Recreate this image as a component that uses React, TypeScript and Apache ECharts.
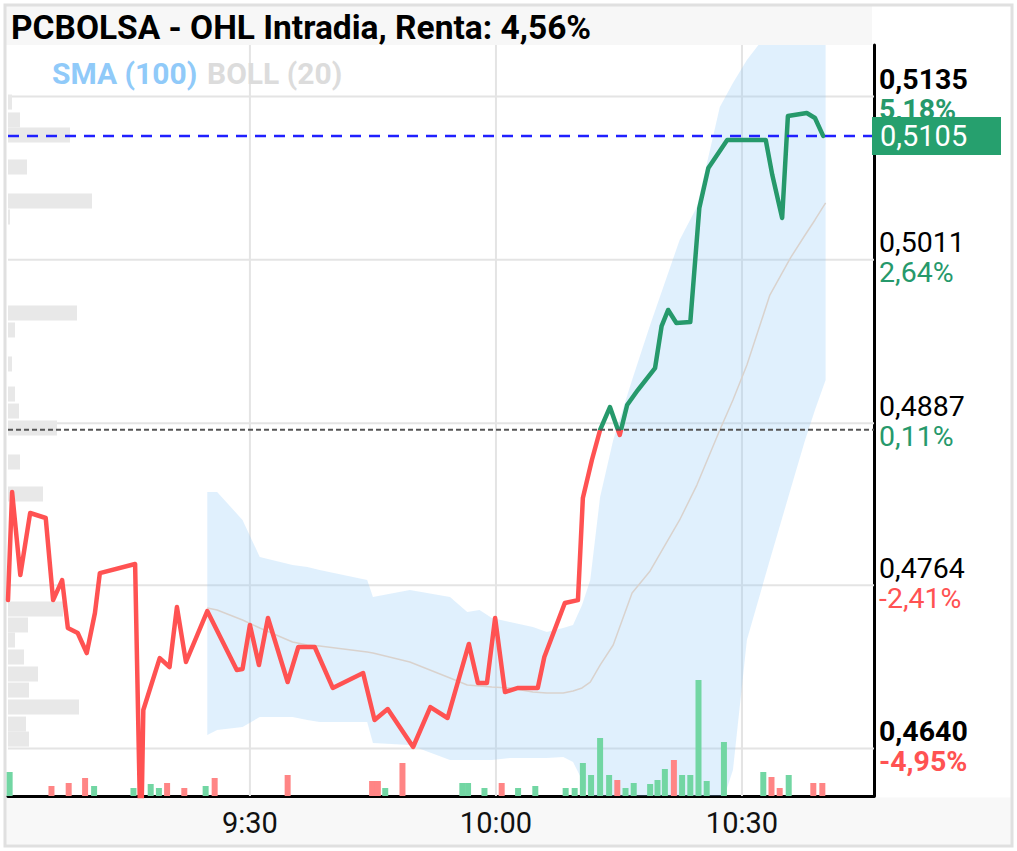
import React, { useEffect, useRef } from 'react';
import * as echarts from 'echarts';

const TITLE = 'PCBOLSA - OHL Intradia, Renta: 4,56%';
const LEGEND_SMA = 'SMA (100)';
const LEGEND_BOLL = 'BOLL (20)';

const PREV_CLOSE = 0.4882;
const LAST_PRICE = 0.5105;
const LAST_PRICE_LABEL = '0,5105';

const PRICE_MIN = 0.4604;
const PRICE_MAX = 0.5174;
const MINUTE_MIN = 0.5; // minutes after 9:00
const MINUTE_MAX = 106.1;

const priceTicks = [0.5135, 0.5011, 0.4887, 0.4764, 0.464];
const priceTickLabels = ['0,5135', '0,5011', '0,4887', '0,4764', '0,4640'];
const pctTickLabels = ['5,18%', '2,64%', '0,11%', '-2,41%', '-4,95%'];
const boldTicks = [true, false, false, false, true];

const timeTicks = [30, 60, 90];
const timeTickLabels = ['9:30', '10:00', '10:30'];

// Intraday price (minutes after 9:00, price)
const priceMinutes = [0.5, 1.0, 2.0, 3.2, 5.1, 6.0, 7.1, 7.8, 9.0, 10.1, 11.1, 11.7, 16.0, 16.7, 17.0, 19.0, 20.2, 21.1, 22.2, 24.8, 28.4, 29.1, 30.0, 31.1, 32.2, 34.6, 35.9, 37.9, 40.1, 43.8, 45.2, 46.8, 49.9, 52.0, 54.1, 56.7, 57.8, 58.9, 59.9, 61.1, 62.7, 65.1, 65.9, 68.4, 70.0, 70.6, 71.7, 72.7, 73.9, 75.1, 76.0, 77.3, 79.4, 80.2, 81.0, 82.0, 83.7, 84.8, 85.9, 88.2, 92.9, 93.7, 94.9, 95.6, 97.9, 98.9, 99.9];
const priceValues = [0.47527, 0.48347, 0.47717, 0.48188, 0.4815, 0.47527, 0.47679, 0.47315, 0.47277, 0.47125, 0.47429, 0.47732, 0.47801, 0.456, 0.46693, 0.47087, 0.47019, 0.47474, 0.47057, 0.47444, 0.46996, 0.47004, 0.47338, 0.47034, 0.47391, 0.46905, 0.47171, 0.47171, 0.4686, 0.46973, 0.46617, 0.467, 0.46412, 0.46715, 0.46632, 0.47194, 0.46898, 0.46898, 0.47391, 0.46829, 0.4686, 0.4686, 0.47095, 0.47505, 0.47527, 0.48302, 0.4859, 0.48818, 0.48992, 0.4878, 0.49008, 0.49121, 0.49288, 0.49607, 0.49729, 0.4963, 0.49637, 0.50503, 0.50806, 0.51019, 0.51019, 0.50753, 0.50427, 0.51201, 0.51224, 0.51186, 0.5105];

// Bollinger (20)
const bollMinutes = [24.8, 26.0, 29.1, 31.2, 35.2, 37.0, 38.5, 44.3, 45.0, 49.5, 54.4, 56.5, 58.0, 59.5, 61.7, 64.5, 66.2, 68.2, 69.4, 70.5, 71.5, 72.7, 74.3, 76.6, 78.8, 82.4, 84.5, 87.3, 88.9, 90.6, 93.4, 95.9, 97.7, 98.9, 100.2];
const bollUpper = [0.48347, 0.48347, 0.48135, 0.47854, 0.47793, 0.47778, 0.47755, 0.47679, 0.4755, 0.47603, 0.4755, 0.47436, 0.47452, 0.47391, 0.4736, 0.47323, 0.47285, 0.47315, 0.47338, 0.4749, 0.47679, 0.48309, 0.48742, 0.49197, 0.49615, 0.5026, 0.5051, 0.51269, 0.51452, 0.51626, 0.51853, 0.51884, 0.51854, 0.51854, 0.51885];
const bollMiddle = [0.47467, 0.47452, 0.47376, 0.47315, 0.47209, 0.47186, 0.47178, 0.47133, 0.47125, 0.47057, 0.46936, 0.46882, 0.46875, 0.46867, 0.4686, 0.46829, 0.46822, 0.46822, 0.46837, 0.4686, 0.46905, 0.47034, 0.47186, 0.47581, 0.47748, 0.48135, 0.484, 0.48818, 0.49046, 0.49311, 0.49842, 0.50123, 0.50298, 0.50412, 0.50541];
const bollLower = [0.46503, 0.46541, 0.46564, 0.4664, 0.4664, 0.46617, 0.46602, 0.46602, 0.46442, 0.46427, 0.46313, 0.46313, 0.46313, 0.46313, 0.46328, 0.46328, 0.46328, 0.46336, 0.46298, 0.46161, 0.4601, 0.45782, 0.45554, 0.45251, 0.45175, 0.45326, 0.45554, 0.45934, 0.46237, 0.47224, 0.47831, 0.48362, 0.48742, 0.4897, 0.49197];

// Traded volume per minute
const volMinutes = [0.7, 5.8, 7.9, 9.9, 11.0, 15.8, 17.9, 18.9, 19.9, 22.0, 24.6, 25.7, 34.6, 44.9, 45.6, 46.5, 48.6, 55.9, 56.6, 58.6, 60.7, 62.7, 64.8, 68.5, 69.6, 70.6, 71.6, 72.7, 73.8, 74.8, 75.8, 76.8, 78.8, 79.7, 80.6, 81.7, 82.7, 83.7, 84.7, 85.7, 87.8, 92.6, 93.6, 94.6, 95.7, 98.7, 99.8];
const volValues = [2400, 1000, 1300, 1800, 1000, 800, 1200, 800, 1300, 800, 1000, 1800, 2100, 1500, 1500, 800, 3300, 1300, 1300, 800, 1300, 800, 1000, 800, 800, 3300, 2100, 5800, 2100, 1600, 800, 1300, 1200, 1600, 2700, 3600, 2100, 2100, 11600, 1500, 5400, 2400, 1900, 800, 2100, 1300, 1300];
const volSide = ['u', 'd', 'd', 'd', 'u', 'u', 'u', 'u', 'd', 'd', 'u', 'd', 'd', 'd', 'd', 'u', 'd', 'u', 'u', 'u', 'd', 'u', 'u', 'u', 'u', 'u', 'u', 'u', 'u', 'd', 'u', 'u', 'u', 'u', 'u', 'd', 'u', 'u', 'u', 'u', 'u', 'u', 'd', 'd', 'u', 'd', 'd'];

// Volume by price (profile)
const profilePrices = [0.51307, 0.51171, 0.51057, 0.50814, 0.50556, 0.50435, 0.49706, 0.49577, 0.49319, 0.49091, 0.48962, 0.48833, 0.48575, 0.48332, 0.47459, 0.47338, 0.47224, 0.47095, 0.46966, 0.46844, 0.46715, 0.46586, 0.46472];
const profileVolumes = [400, 1200, 6200, 1900, 8400, 200, 6900, 700, 400, 700, 1100, 4900, 1200, 3500, 5500, 2000, 700, 1600, 3000, 2100, 7100, 1800, 2100];
const PROFILE_HALF_BUCKET = 0.00057;

const GREEN = '#26996b';
const RED = '#ff5252';
const VOL_GREEN = '#72d6a3';
const VOL_RED = '#ff8585';
const FONT = 'Roboto';

function hLine(name: string, v: number, z: number, lineStyle: any) {
  return {
    name, type: 'line', z, silent: true, symbol: 'none',
    data: [[MINUTE_MIN, v], [MINUTE_MAX, v]], lineStyle,
  };
}
function vLine(name: string, m: number, z: number, lineStyle: any) {
  return {
    name, type: 'line', z, silent: true, symbol: 'none',
    data: [[m, PRICE_MIN], [m, PRICE_MAX]], lineStyle,
  };
}

export default function App() {
  const ref = useRef<HTMLDivElement>(null);

  useEffect(() => {
    const el = ref.current as HTMLDivElement;
    const chart = echarts.init(el, undefined, { renderer: 'svg' });

    const priceData = priceMinutes.map((m, i) => [m, priceValues[i]]);
    const midData = bollMinutes.map((m, i) => [m, bollMiddle[i]]);
    const volData = volMinutes.map((m, i) => ({
      value: [m, volValues[i]],
      itemStyle: { color: volSide[i] === 'u' ? VOL_GREEN : VOL_RED },
    }));
    const profileData = profilePrices.map((p, i) => [profileVolumes[i], p]);

    const gridStyle = { color: '#e4e4e4', width: 2, type: 'solid' };
    const series: any[] = [
      ...priceTicks.map((v, i) => hLine('hgrid' + i, v, 1, gridStyle)),
      ...timeTicks.map((m, i) => vLine('vgrid' + i, m, 1, gridStyle)),
      {
        name: 'profile', type: 'custom', z: 2, xAxisIndex: 1, yAxisIndex: 0,
        silent: true, clip: true,
        data: profileData,
        renderItem: (params: any, api: any) => {
          const v = api.value(0);
          const p = api.value(1);
          const tl = api.coord([v, p + PROFILE_HALF_BUCKET]);
          const br = api.coord([0, p - PROFILE_HALF_BUCKET]);
          return {
            type: 'rect',
            shape: { x: br[0], y: tl[1], width: tl[0] - br[0], height: br[1] - tl[1] },
            style: { fill: '#e8e8e8' },
          };
        },
      },
      {
        name: 'bollBand', type: 'custom', z: 3, xAxisIndex: 0, yAxisIndex: 0,
        silent: true, clip: true,
        data: [[bollMinutes[0], bollMiddle[0]]],
        renderItem: (params: any, api: any) => {
          const up = bollMinutes.map((m, i) => api.coord([m, bollUpper[i]]));
          const low = bollMinutes.map((m, i) => api.coord([m, bollLower[i]])).reverse();
          return {
            type: 'polygon',
            shape: { points: up.concat(low) },
            style: { fill: 'rgba(144,202,249,0.28)' },
          };
        },
      },
      {
        name: 'bollMid', type: 'line', z: 4, data: midData, symbol: 'none', silent: true,
        lineStyle: { color: '#d9d2cd', width: 1.5 },
      },
      {
        name: 'volume', type: 'bar', z: 4, xAxisIndex: 0, yAxisIndex: 1,
        barWidth: 6, data: volData, silent: true,
      },
      {
        id: 'price', name: 'price', type: 'line', z: 6, data: priceData, symbol: 'none', silent: true,
        lineStyle: { width: 4.5, cap: 'round', join: 'round', color: RED },
      },
      hLine('prevClose', PREV_CLOSE, 7, { color: '#555555', width: 2, type: [5, 3] }),
      hLine('lastPrice', LAST_PRICE, 7, { color: '#2020ff', width: 2.5, type: [11, 8] }),
    ];

    const option: any = {
      animation: false,
      backgroundColor: '#ffffff',
      grid: { left: 8, top: 45, width: 866, height: 751, containLabel: false },
      xAxis: [
        {
          type: 'value', min: MINUTE_MIN, max: MINUTE_MAX, position: 'bottom',
          axisLine: { show: true, onZero: false, lineStyle: { color: '#000', width: 3 } },
          axisTick: { show: false }, axisLabel: { show: false }, splitLine: { show: false },
        },
        {
          type: 'value', min: 0, max: 86600, position: 'top',
          axisLine: { show: false }, axisTick: { show: false }, axisLabel: { show: false },
          splitLine: { show: false },
        },
      ],
      yAxis: [
        {
          type: 'value', min: PRICE_MIN, max: PRICE_MAX, position: 'right',
          axisLine: { show: true, onZero: false, lineStyle: { color: '#000', width: 3 } },
          axisTick: { show: false }, axisLabel: { show: false }, splitLine: { show: false },
        },
        {
          type: 'value', min: 0, max: 75100, position: 'left',
          axisLine: { show: false }, axisTick: { show: false }, axisLabel: { show: false },
          splitLine: { show: false },
        },
      ],
      series,
    };

    chart.setOption(option);

    const yPix = (v: number) => chart.convertToPixel({ yAxisIndex: 0 }, v) as number;
    const xPix = (m: number) => chart.convertToPixel({ xAxisIndex: 0 }, m) as number;

    // colour the price line green above the previous close and red below it
    const yTop = yPix(PRICE_MAX);
    const yBottom = yPix(PRICE_MIN);
    const t = (yPix(PREV_CLOSE) - yTop) / (yBottom - yTop);
    const priceGradient = new echarts.graphic.LinearGradient(0, yTop, 0, yBottom, [
      { offset: 0, color: GREEN },
      { offset: t, color: GREEN },
      { offset: t, color: RED },
      { offset: 1, color: RED },
    ], true);

    const graphics: any[] = [
      { type: 'rect', z: 0, silent: true, shape: { x: 6, y: 6, width: 866, height: 39 }, style: { fill: '#f7f7f7' } },
      { type: 'rect', z: 0, silent: true, shape: { x: 6, y: 797.5, width: 1005, height: 47 }, style: { fill: '#f8f8f8' } },
      { type: 'rect', z: 0, silent: true, shape: { x: 5, y: 5, width: 1007, height: 841 }, style: { fill: 'none', stroke: '#e0e0e0', lineWidth: 3 } },
      {
        type: 'text', z: 10, silent: true, x: 11, y: 27,
        style: { text: TITLE, font: `bold 33.5px ${FONT}`, fill: '#000', textVerticalAlign: 'middle' },
      },
      {
        type: 'text', z: 10, silent: true, x: 52, y: 73,
        style: { text: LEGEND_SMA, font: `bold 30px ${FONT}`, fill: '#90caf9', textVerticalAlign: 'middle' },
      },
      {
        type: 'text', z: 10, silent: true, x: 207, y: 73,
        style: { text: LEGEND_BOLL, font: `bold 30px ${FONT}`, fill: '#dcdcdc', textVerticalAlign: 'middle' },
      },
    ];

    priceTicks.forEach((v, i) => {
      const y = yPix(v);
      const weight = boldTicks[i] ? 'bold ' : '';
      const pct = pctTickLabels[i];
      graphics.push({
        type: 'text', z: 10, silent: true, x: 879, y: y - 17,
        style: { text: priceTickLabels[i], font: `${weight}28.5px ${FONT}`, fill: '#000', textVerticalAlign: 'middle' },
      });
      graphics.push({
        type: 'text', z: 10, silent: true, x: 879, y: y + 13,
        style: { text: pct, font: `${weight}28.5px ${FONT}`, fill: pct.startsWith('-') ? RED : GREEN, textVerticalAlign: 'middle' },
      });
    });

    timeTicks.forEach((m, i) => {
      graphics.push({
        type: 'text', z: 10, silent: true, x: xPix(m), y: 823,
        style: { text: timeTickLabels[i], font: `29px ${FONT}`, fill: '#111', textAlign: 'center', textVerticalAlign: 'middle' },
      });
    });

    const ly = yPix(LAST_PRICE);
    graphics.push({
      type: 'rect', z: 11, silent: true, shape: { x: 872, y: ly - 19, width: 129, height: 38 },
      style: { fill: '#26a06e' },
    });
    graphics.push({
      type: 'text', z: 12, silent: true, x: 880, y: ly,
      style: { text: LAST_PRICE_LABEL, font: `29px ${FONT}`, fill: '#fff', textVerticalAlign: 'middle' },
    });

    chart.setOption({
      series: [{ id: 'price', lineStyle: { color: priceGradient } }],
      graphic: graphics,
    });

    return () => chart.dispose();
  }, []);

  return <div ref={ref} style={{ position: 'absolute', left: 0, top: 0, width: 1017, height: 851 }} />;
}
